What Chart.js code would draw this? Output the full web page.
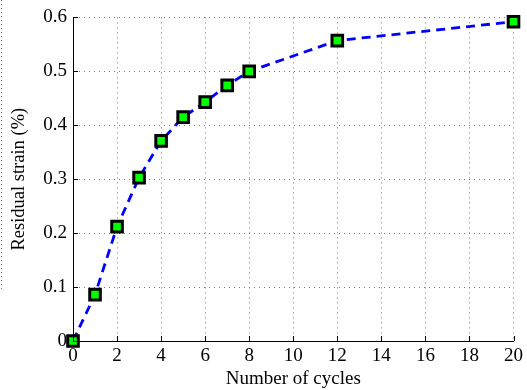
<!DOCTYPE html>
<html>
<head>
<meta charset="utf-8">
<script src="https://cdn.jsdelivr.net/npm/chart.js@4/dist/chart.umd.min.js"></script>
<style>
  html, body { margin: 0; padding: 0; background: #fff; }
  #wrap { width: 527px; height: 390px; position: relative; }
</style>
</head>
<body>
<div id="wrap"><canvas id="chart"></canvas></div>
<script>
const cycles = [0, 1, 2, 3, 4, 5, 6, 7, 8, 12, 20];
const residualStrain = [0, 0.086, 0.212, 0.303, 0.371, 0.415, 0.443, 0.474, 0.500, 0.557, 0.592];
const xTicks = [0, 2, 4, 6, 8, 10, 12, 14, 16, 18, 20];
const yTicks = [0, 0.1, 0.2, 0.3, 0.4, 0.5, 0.6];

const serif = 'Liberation Serif';

// inward tick marks, like the matlab export
const axisTicks = {
  id: 'axisTicks',
  afterDatasetsDraw(chart) {
    const { ctx, chartArea: a, scales: { x, y } } = chart;
    ctx.save();
    ctx.strokeStyle = '#000';
    ctx.lineWidth = 1;
    ctx.beginPath();
    xTicks.forEach((v) => {
      const px = Math.round(x.getPixelForValue(v)) + 0.5;
      ctx.moveTo(px, a.bottom);
      ctx.lineTo(px, a.bottom - 5);
    });
    yTicks.forEach((v) => {
      const py = Math.round(y.getPixelForValue(v)) + 0.5;
      ctx.moveTo(a.left, py);
      ctx.lineTo(a.left + 5, py);
    });
    ctx.stroke();
    ctx.restore();
  }
};

// cut-off neighbour figure at the left edge
const leftEdge = {
  id: 'leftEdge',
  beforeDraw(chart) {
    const { ctx } = chart;
    ctx.save();
    ctx.strokeStyle = '#777';
    ctx.setLineDash([1, 3]);
    ctx.beginPath();
    ctx.moveTo(1.5, 0);
    ctx.lineTo(1.5, 290);
    ctx.stroke();
    ctx.restore();
  }
};

new Chart(document.getElementById('chart'), {
  type: 'line',
  data: {
    datasets: [{
      data: cycles.map((c, i) => ({ x: c, y: residualStrain[i] })),
      borderColor: '#0000ff',
      borderWidth: 2.8,
      borderDash: [9, 6],
      pointStyle: 'rect',
      pointRadius: 7.5,
      pointHoverRadius: 7.5,
      pointBackgroundColor: '#00ff00',
      pointBorderColor: '#000',
      pointBorderWidth: 3,
      tension: 0,
      fill: false,
      clip: false
    }]
  },
  options: {
    responsive: true,
    maintainAspectRatio: false,
    animation: false,
    layout: { padding: { top: 15, right: 13, left: 0, bottom: 0 } },
    plugins: { legend: { display: false }, tooltip: { enabled: false } },
    scales: {
      x: {
        type: 'linear',
        min: 0,
        max: 20,
        afterBuildTicks: (s) => { s.ticks = xTicks.map((v) => ({ value: v })); },
        afterFit: (s) => { s.height = 49; },
        grid: { color: '#777', lineWidth: 1, drawTicks: false },
        border: { color: '#000', width: 1, dash: [1, 4] },
        ticks: { color: '#000', padding: 4, maxRotation: 0, font: { family: serif, size: 19 } },
        title: { display: true, text: 'Number of cycles', color: '#000', padding: { top: 0, bottom: 0 }, font: { family: serif, size: 19 } }
      },
      y: {
        type: 'linear',
        min: 0,
        max: 0.6,
        afterBuildTicks: (s) => { s.ticks = yTicks.map((v) => ({ value: v })); },
        afterFit: (s) => { s.width = 73; },
        grid: { color: '#777', lineWidth: 1, drawTicks: false },
        border: { color: '#000', width: 1, dash: [1, 4] },
        ticks: {
          color: '#000', padding: 6,
          font: { family: serif, size: 19 },
          callback: (v) => (v === 0 ? '0' : v.toFixed(1))
        },
        title: { display: true, text: 'Residual strain (%)', color: '#000', padding: { top: 8, bottom: 0 }, font: { family: serif, size: 18.5 } }
      }
    }
  },
  plugins: [axisTicks, leftEdge]
});
</script>
</body>
</html>
